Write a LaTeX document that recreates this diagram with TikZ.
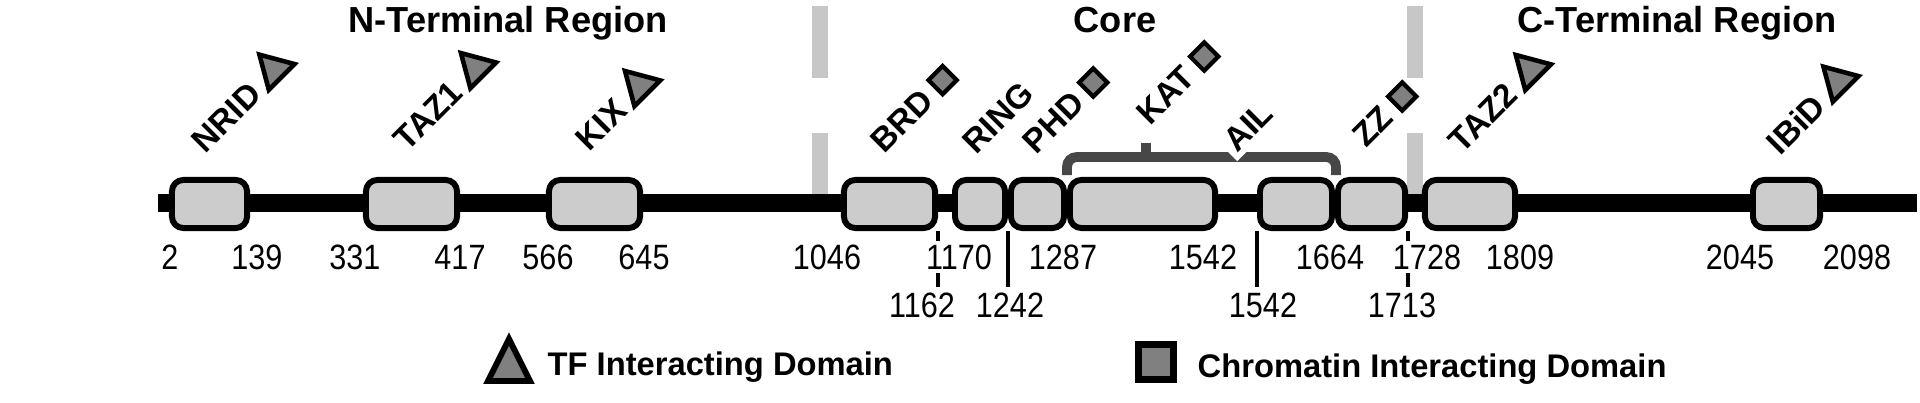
\documentclass[tikz,border=0pt]{standalone}
\usepackage{fontspec}
\setmainfont{Liberation Sans}
\newfontfamily\numfont{Liberation Sans}[FakeStretch=0.87]
\usetikzlibrary{shapes.geometric,positioning,calc}

\begin{document}
\begin{tikzpicture}[x=0.01cm,y=-0.01cm]

	\tikzset{
	dombox/.style={draw, line width=1.7pt, rounded corners=3.2pt, fill=black!20, minimum height=0.48cm, inner sep=0pt},
	tf mark/.style={draw, regular polygon, regular polygon sides=3, line width=1.3pt, fill=black!50, minimum size=0.42cm, inner sep=0pt, outer sep=3.5pt},
	chr mark/.style={draw, rectangle, line width=1.2pt, fill=black!50, minimum size=0.2cm, inner sep=0pt, outer sep=3pt},
	dom label/.style={font=\bfseries\fontsize{9.5}{11}\selectfont, rotate=45, anchor=base west, inner sep=0pt},
	region/.style={font=\bfseries\fontsize{10.3}{12}\selectfont},
	legend text/.style={font=\bfseries\fontsize{9.3}{11}\selectfont, anchor=base west, inner sep=0pt},
	resnum/.style={font=\numfont\fontsize{10}{12}\selectfont, fill=white, inner sep=1pt},
	sep line/.style={draw=black!22, line width=4.3pt},
	brace/.style={draw=black!72, line width=2.8pt, rounded corners=2.8pt},
	resline/.style={line width=1.4pt}
}

\useasboundingbox (0,0) rectangle (1920,403);

% region borders
\foreach \x in {820,1415}{
	\draw[sep line] (\x,6) -- (\x,78);
	\draw[sep line] (\x,133) -- (\x,203);
}
\node[region, anchor=base] (nterm) at (508,32) {N-Terminal Region};
\node[region, anchor=base] (core) at (1115,32) {Core};
\node[region, anchor=base] (cterm) at (1677,32) {C-Terminal Region};

% backbone and domains
\draw[line width=5.1pt] (158,203) -- (1917,203);
\foreach \nm/\a/\b in {nrid/169/250, taz1/363/460, kix/546/643, brd/841/938, ring/952/1008, phd/1008/1067, kat/1067/1218, ail/1257/1335, zz/1335/1408, taz2/1422/1518, ibid/1750/1823}
	\node[dombox, minimum width={(\b-\a-6)*0.2845pt}] (\nm) at ({(\a+\b)/2},204) {};

% second row of positions
\draw[resline] (brd.south east) -- ++(0,56);
\draw[resline] (phd.south west) -- ++(0,56);
\draw[resline] (ail.south west) -- ++(0,56);
\draw[resline] (zz.south east) -- ++(0,56);
\foreach \v/\x in {1162/922, 1242/1010, 1542/1263, 1713/1402}
	\node[resnum] (q\v) at (\x,305) {\v};

% domain borders
\foreach \v/\x in {2/170, 139/257, 331/355, 417/460, 566/548, 645/644, 1046/827, 1170/959, 1287/1063, 1542/1203, 1664/1330, 1728/1427, 1809/1520, 2045/1740, 2098/1857}
	\node[resnum] (p\v) at (\x,257) {\v};

% KAT bracket
\draw[brace] (1067,175) |- (1336,157) -- (1336,175);
\draw[brace] (1146,158) -- (1146,143);

% domain names
\node[dom label] (lnrid) at (205,155) {NRID};
\node[dom label] (ltaz1) at (407,153) {TAZ1};
\node[dom label] (lkix) at (589,153) {KIX};
\node[dom label] (lbrd) at (884,155) {BRD};
\node[dom label] (lring) at (976,156) {RING};
\node[dom label] (lphd) at (1036,156) {PHD};
\node[dom label] (lkat) at (1150,127) {KAT};
\node[dom label, fill=white, inner sep=1.5pt] (lail) at (1233,158) {AIL};
\node[dom label] (lzz) at (1366,149) {ZZ};
\node[dom label] (ltaz2) at (1462,155) {TAZ2};
\node[dom label] (libid) at (1780,157) {IBiD};

\foreach \l in {lnrid,ltaz1,lkix,ltaz2,libid}
	\node[tf mark, rotate=45, anchor=west] at (\l.east) {};
\foreach \l in {lbrd,lphd,lkat,lzz}
	\node[chr mark, rotate=45, anchor=west] at (\l.east) {};

% legend
\coordinate (ltf) at (509,360);
\draw[line width=1.7pt, fill=black!50] ($(ltf)+(-21,21)$) -- ($(ltf)+(0,-21)$) -- ($(ltf)+(21,21)$) -- cycle;
\node[legend text] (tftext) at (547,375) {TF Interacting Domain};
\node[chr mark, minimum size=0.35cm, line width=2pt, outer sep=0pt] (lchr) at (1156,362) {};
\node[legend text] (chrtext) at (1197,377) {Chromatin Interacting Domain};

\end{tikzpicture}
\end{document}
